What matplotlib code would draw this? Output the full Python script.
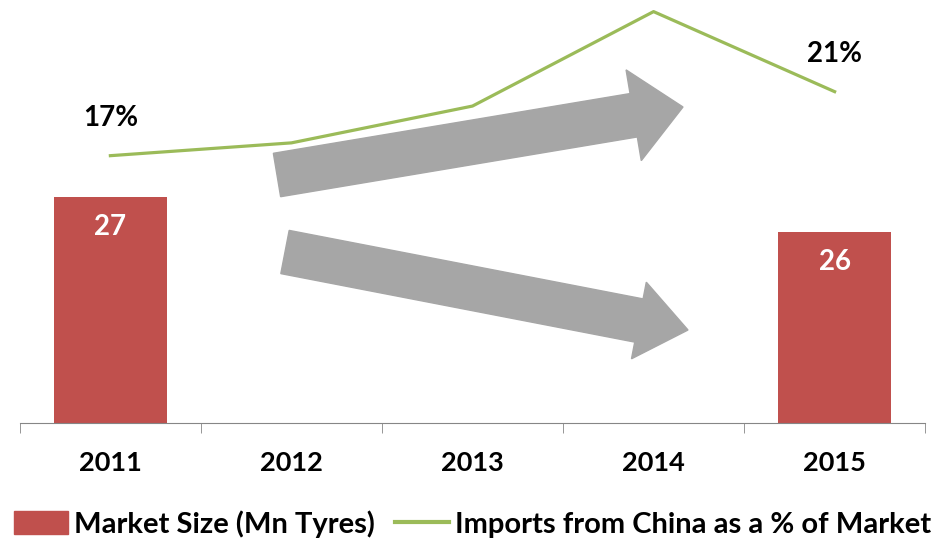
import numpy as np
import matplotlib.pyplot as plt
from matplotlib.patches import FancyArrow, Patch
from matplotlib.lines import Line2D

plt.rcParams['font.family'] = ['Lato', 'DejaVu Sans']
plt.rcParams['font.weight'] = 'bold'

# ---------------- data ----------------
years = ["2011", "2012", "2013", "2014", "2015"]
market_size = [27, np.nan, np.nan, np.nan, 26]          # Mn tyres
imports_share = [17.0, 17.8, 20.1, 26.0, 21.0]          # % of market
share_labels = {0: "17%", 4: "21%"}

bar_color = "#C0504D"
line_color = "#9BBB59"
arrow_color = "#A6A6A6"

fig = plt.figure(figsize=(9.45, 5.47), dpi=100)
ax = fig.add_axes([0.021, 0.2267, 0.958, 0.755])
ax2 = ax.twinx()

x = np.arange(len(years))
ax.bar(x, market_size, width=0.62, color=bar_color, zorder=2)
for i, v in enumerate(market_size):
    if not np.isnan(v):
        ax.annotate(f"{v:.0f}", (x[i], v), xytext=(0, -22), textcoords="offset points",
                    ha="center", va="center", color="white", fontsize=20)

ax2.plot(x, imports_share, color=line_color, lw=2.3, zorder=3)
for i, lab in share_labels.items():
    ax2.annotate(lab, (x[i], imports_share[i]), xytext=(0, 27), textcoords="offset points",
                 ha="center", va="center", color="black", fontsize=20)

ax.set_xlim(-0.5, 4.5)
ax.set_ylim(20.54, 32.34)
ax2.set_ylim(0.3, 26.1)

ax.set_xticks(x)
ax.set_xticklabels(years, fontsize=19.5)
ax.set_xticks(np.arange(-0.5, 5, 1), minor=True)
ax.tick_params(axis="x", which="major", length=0, pad=20)
ax.tick_params(axis="x", which="minor", length=7, color="#868686")
ax.set_yticks([])
ax2.set_yticks([])
for a in (ax, ax2):
    for s in ("top", "right", "left"):
        a.spines[s].set_visible(False)
    a.spines["bottom"].set_color("#868686")
ax2.spines["bottom"].set_visible(False)

# decorative trend arrows (figure inches)
fig.patches.append(FancyArrow(2.77, 3.72, 4.06, 0.68, width=0.44, head_width=0.92,
                              head_length=0.5, length_includes_head=True,
                              color=arrow_color, transform=fig.dpi_scale_trans, figure=fig))
fig.patches.append(FancyArrow(2.85, 2.95, 4.03, -0.78, width=0.44, head_width=0.78,
                              head_length=0.5, length_includes_head=True,
                              color=arrow_color, transform=fig.dpi_scale_trans, figure=fig))

handles = [Patch(color=bar_color), Line2D([0], [0], color=line_color, lw=3)]
fig.legend(handles, ["Market Size (Mn Tyres)", "Imports from China as a % of Market"],
           loc="center", bbox_to_anchor=(0.5, 0.042), ncol=2, frameon=False,
           fontsize=21, handlelength=1.85, handleheight=0.85, handletextpad=0.2,
           columnspacing=0.7, borderpad=0.1, borderaxespad=0.0)

fig.savefig("out.png", dpi=100)
